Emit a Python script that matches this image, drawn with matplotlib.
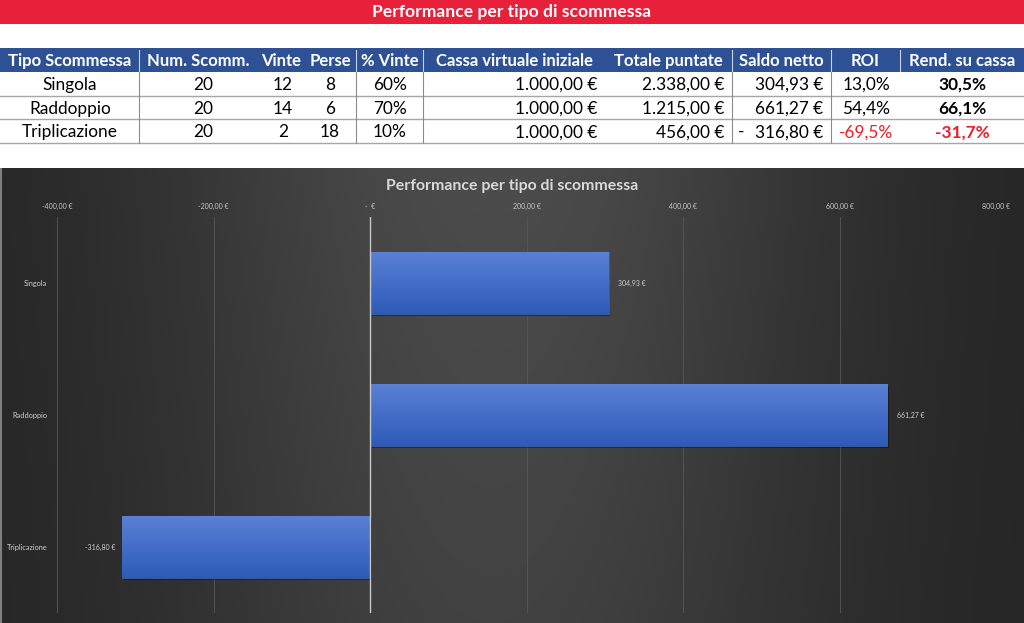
import numpy as np
import matplotlib
matplotlib.use("Agg")
import matplotlib.pyplot as plt
from matplotlib.patches import Rectangle
import matplotlib.patheffects as pe

plt.rcParams['font.family'] = ['Lato', 'DejaVu Sans']

# ---------------- data ----------------
title = "Performance per tipo di scommessa"
headers = ["Tipo Scommessa", "Num. Scomm.", "Vinte", "Perse", "% Vinte",
           "Cassa virtuale iniziale", "Totale puntate", "Saldo netto", "ROI", "Rend. su cassa"]
tipi = ["Singola", "Raddoppio", "Triplicazione"]
num_scomm = [20, 20, 20]
vinte = [12, 14, 2]
perse = [8, 6, 18]
pct_vinte = [60, 70, 10]
cassa_iniziale = [1000.00, 1000.00, 1000.00]
totale_puntate = [2338.00, 1215.00, 456.00]
saldo_netto = [304.93, 661.27, -316.80]
roi = [13.0, 54.4, -69.5]
rend_cassa = [30.5, 66.1, -31.7]
x_ticks = [-400, -200, 0, 200, 400, 600, 800]


def it_num(v, dec=2):
    s = f"{abs(v):,.{dec}f}"
    s = s.replace(",", "X").replace(".", ",").replace("X", ".")
    return s


def it_pct(v):
    return ("-" if v < 0 else "") + it_num(v, 1) + "%"


def euro(v):
    return it_num(v) + " €"


def euro_tick(v, pos=None):
    if v == 0:
        return "-  €"
    return ("-" if v < 0 else "") + it_num(v) + " €"


# ---------------- figure ----------------
W, H = 1024, 623
fig = plt.figure(figsize=(W / 100, H / 100), dpi=100, facecolor="white")

lay = fig.add_axes([0, 0, 1, 1])
lay.set_xlim(0, W)
lay.set_ylim(H, 0)
lay.axis("off")
lay.set_zorder(0)

# red title band
lay.add_patch(Rectangle((0, 0), W, 24, facecolor="#E8203A", edgecolor="none"))
lay.text(W / 2, 12.5, title, color="white", fontsize=12.6, fontweight="bold",
         ha="center", va="center")

# table layout
col_edges = [0, 139, 258, 305, 356, 423, 605, 732, 831, 900, 1024]
hdr_top, hdr_bot = 48, 72
row_h = 23.7
header_blue = "#2E5195"
lay.add_patch(Rectangle((0, hdr_top), W, hdr_bot - hdr_top, facecolor=header_blue, edgecolor="none"))
for i, h in enumerate(headers):
    cx = (col_edges[i] + col_edges[i + 1]) / 2
    lay.text(cx, (hdr_top + hdr_bot) / 2 + 1, h, color="white", fontsize=12.0,
             fontweight="bold", ha="center", va="center")
for xe in [139, 356, 423, 732, 831, 900]:
    lay.plot([xe, xe], [hdr_top + 2, hdr_bot - 1], color="#C9D3E8", lw=0.8)

row_sep_cols = [139, 356, 423, 732, 831]
neg_col = "#E8202A"
for r in range(len(tipi)):
    y0 = hdr_bot + r * row_h
    y1 = y0 + row_h
    cy = (y0 + y1) / 2 + 1
    lay.plot([0, W], [y1, y1], color="#A6A6A6", lw=1.0)
    for xe in row_sep_cols:
        lay.plot([xe, xe], [y0, y1], color="#8C8C8C", lw=0.8)
    fs = 12.4
    lay.text(70, cy, tipi[r], fontsize=fs, ha="center", va="center", color="black")
    lay.text(203, cy, str(num_scomm[r]), fontsize=fs, ha="center", va="center")
    lay.text(283, cy, str(vinte[r]), fontsize=fs, ha="center", va="center")
    lay.text(330, cy, str(perse[r]), fontsize=fs, ha="center", va="center")
    lay.text(390, cy, f"{pct_vinte[r]}%", fontsize=fs, ha="center", va="center")
    lay.text(597, cy, euro(cassa_iniziale[r]), fontsize=fs, ha="right", va="center")
    lay.text(724, cy, euro(totale_puntate[r]), fontsize=fs, ha="right", va="center")
    lay.text(823, cy, euro(saldo_netto[r]), fontsize=fs, ha="right", va="center")
    if saldo_netto[r] < 0:
        lay.text(738, cy, "-", fontsize=fs, ha="left", va="center")
    lay.text(866, cy, it_pct(roi[r]), fontsize=fs, ha="center", va="center",
             color=neg_col if roi[r] < 0 else "black")
    lay.text(962, cy, it_pct(rend_cassa[r]), fontsize=fs, ha="center", va="center",
             fontweight="bold", color=neg_col if rend_cassa[r] < 0 else "black")

# ---------------- chart panel background ----------------
panel_top = 168
bg = fig.add_axes([0, 0, 1, (H - panel_top) / H])
bg.set_zorder(1)
gx = np.linspace(0, 1, 512)
gy = np.linspace(0, 1, 228)
X, Y = np.meshgrid(gx, gy)
lum = 36 + 40 * np.exp(-((X - 0.48) / 0.33) ** 2) * (1 - 0.25 * Y)
lum = np.clip(lum, 0, 255) / 255.0
img = np.dstack([lum, lum, lum])
bg.imshow(img, extent=[0, 1, 0, 1], aspect="auto", origin="upper", interpolation="bilinear")
bg.plot([0.001, 0.001], [0, 1], color="#7F7F7F", lw=1.5)
bg.set_xlim(0, 1)
bg.set_ylim(0, 1)
bg.axis("off")
bg.text(0.5, (H - 186) / (H - panel_top), title, color="#D9D9D9", fontsize=11.4,
        fontweight="bold", ha="center", va="center")

# ---------------- bar chart ----------------
ax_left, ax_right = 57, 996
ax_top, ax_bot = 217, 613
ax = fig.add_axes([ax_left / W, (H - ax_bot) / H, (ax_right - ax_left) / W, (ax_bot - ax_top) / H])
ax.set_zorder(2)
ax.patch.set_alpha(0)
ypos = np.arange(len(tipi))
bars = ax.barh(ypos, saldo_netto, height=0.47, color="#4472C4", edgecolor="#3A5FA8", linewidth=0.5,
               zorder=3,
               path_effects=[pe.SimplePatchShadow(offset=(1.2, -1.2), shadow_rgbFace="black", alpha=0.35),
                             pe.Normal()])
grad = np.linspace(0, 1, 64).reshape(-1, 1)
top_c = np.array([0x5B, 0x80, 0xD6]) / 255
bot_c = np.array([0x2D, 0x5C, 0xB8]) / 255
grad_img = top_c[None, None, :] * (1 - grad[:, :, None]) + bot_c[None, None, :] * grad[:, :, None]
for b in bars:
    x0, w = b.get_x(), b.get_width()
    y0, h = b.get_y(), b.get_height()
    im = ax.imshow(grad_img, extent=[x0, x0 + w, y0 + h, y0], aspect="auto", zorder=4,
                   interpolation="bilinear")
    im.set_clip_path(b)

ax.set_xlim(-400, 800)
ax.set_ylim(len(tipi) - 0.5, -0.5)
ax.set_xticks(x_ticks)
ax.xaxis.set_major_formatter(matplotlib.ticker.FuncFormatter(euro_tick))
ax.xaxis.tick_top()
ax.tick_params(axis="x", length=0, pad=5, labelsize=5, labelcolor="#C8C8C8")
ax.set_yticks(ypos)
ax.set_yticklabels(tipi)
ax.tick_params(axis="y", length=0, pad=7, labelsize=5.3, labelcolor="#D0D0D0")
for s in ax.spines.values():
    s.set_visible(False)
ax.grid(axis="x", color="#575757", lw=0.6, zorder=1)
ax.axvline(0, color="#C8C8C8", lw=1.0, zorder=5)

for b, v in zip(bars, saldo_netto):
    yc = b.get_y() + b.get_height() / 2
    if v >= 0:
        ax.annotate(euro(v), (v, yc), xytext=(7, 0), textcoords="offset points",
                    ha="left", va="center", fontsize=5, color="#D0D0D0")
    else:
        ax.annotate("-" + euro(v), (v, yc), xytext=(-5, 0), textcoords="offset points",
                    ha="right", va="center", fontsize=5, color="#D0D0D0")

fig.savefig("out.png", dpi=100, facecolor=fig.get_facecolor())
